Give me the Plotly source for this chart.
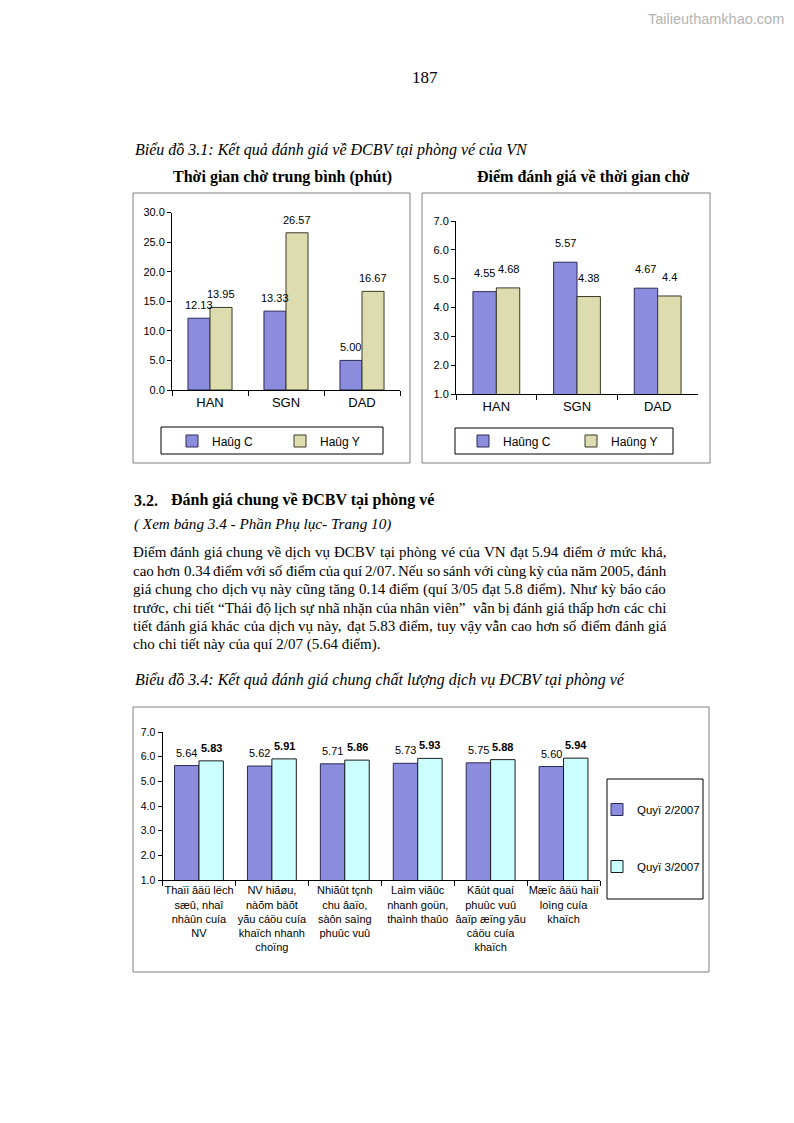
import unicodedata
import plotly.graph_objects as go

# The browser page adds an 8px body margin, so the figure is sized to fit inside it
OFF = 8
W, H = 794 - 2 * OFF, 1123 - 2 * OFF

# ---------------- data ----------------
airports = ["HAN", "SGN", "DAD"]
wait_c = [12.13, 13.33, 5.00]
wait_y = [13.95, 26.57, 16.67]
score_c = [4.55, 5.57, 4.67]
score_y = [4.68, 4.38, 4.4]
series1_names = ["Haûg C", "Haûg Y"]
series2_names = ["Haûng C", "Haûng Y"]

criteria = [
    "Thaïi âäü lëch<br>sæû, nhaî<br>nhàûn cuía<br>NV",
    "NV hiãøu,<br>nàõm bàõt<br>yãu cáöu cuía<br>khaïch nhanh<br>choïng",
    "Nhiãût tçnh<br>chu âaïo,<br>sàôn saìng<br>phuûc vuû",
    "Laìm viãûc<br>nhanh goün,<br>thaình thaûo",
    "Kãút quaí<br>phuûc vuû<br>âaïp æïng yãu<br>cáöu cuía<br>khaïch",
    "Mæïc âäü haìi<br>loìng cuía<br>khaïch",
]
q2_2007 = [5.64, 5.62, 5.71, 5.73, 5.75, 5.60]
q3_2007 = [5.83, 5.91, 5.86, 5.93, 5.88, 5.94]
series3_names = ["Quyï 2/2007", "Quyï 3/2007"]

para_lines = [
    "Điểm đánh giá chung về dịch vụ ĐCBV tại phòng vé của VN đạt 5.94 điểm ở mức khá,",
    "cao hơn 0.34 điểm với số điểm của quí 2/07. Nếu so sánh với cùng kỳ của năm 2005, đánh",
    "giá chung cho dịch vụ này cũng tăng 0.14 điểm (quí 3/05 đạt 5.8 điểm). Như kỳ báo cáo",
    "trước, chi tiết “Thái độ lịch sự nhã nhặn của nhân viên”  vẫn bị đánh giá thấp hơn các chi",
    "tiết đánh giá khác của dịch vụ này, đạt 5.83 điểm, tuy vậy vẫn cao hơn số điểm đánh giá",
    "cho chi tiết này của quí 2/07 (5.64 điểm).",
]

# ---------------- helpers (page pixel -> paper fraction) ----------------
def px(x):
    return (x - OFF) / W

def py(y):
    return 1 - (y - OFF) / H

SERIF = "Liberation Serif"
SANS = "Liberation Sans, Arial"
C_BLUE = "#8c8cde"
C_BLUE_LINE = "#2a2a55"
C_YEL = "#dcdcae"
C_YEL_LINE = "#3a3a2a"
C_CYAN = "#ccffff"
C_CYAN_LINE = "#1a1a1a"

fig = go.Figure()

# ---------------- chart 1 ----------------
w1 = 0.29
fig.add_trace(go.Bar(x=airports, y=wait_c, name=series1_names[0], width=w1, offset=-w1,
                     marker=dict(color=C_BLUE, line=dict(color=C_BLUE_LINE, width=1)),
                     xaxis="x", yaxis="y", legend="legend"))
fig.add_trace(go.Bar(x=airports, y=wait_y, name=series1_names[1], width=w1, offset=0,
                     marker=dict(color=C_YEL, line=dict(color=C_YEL_LINE, width=1)),
                     xaxis="x", yaxis="y", legend="legend"))

# ---------------- chart 2 ----------------
w2 = 0.29
fig.add_trace(go.Bar(x=airports, y=score_c, name=series2_names[0], width=w2, offset=-w2,
                     marker=dict(color=C_BLUE, line=dict(color=C_BLUE_LINE, width=1)),
                     xaxis="x2", yaxis="y2", legend="legend2"))
fig.add_trace(go.Bar(x=airports, y=score_y, name=series2_names[1], width=w2, offset=0,
                     marker=dict(color=C_YEL, line=dict(color=C_YEL_LINE, width=1)),
                     xaxis="x2", yaxis="y2", legend="legend2"))

# ---------------- chart 3 ----------------
w3 = 0.335
fig.add_trace(go.Bar(x=criteria, y=q2_2007, name=series3_names[0], width=w3, offset=-w3,
                     marker=dict(color=C_BLUE, line=dict(color=C_BLUE_LINE, width=1)),
                     xaxis="x3", yaxis="y3", legend="legend3", legendgroup="a"))
fig.add_trace(go.Bar(x=criteria, y=q3_2007, name=series3_names[1], width=w3, offset=0,
                     marker=dict(color=C_CYAN, line=dict(color=C_CYAN_LINE, width=1)),
                     xaxis="x3", yaxis="y3", legend="legend3", legendgroup="b"))

annotations = []

# data labels (anchored on data values through the axes)
def add_labels(vals, xref, yref, off, fmt, shift, bold=False, size=11):
    for i, v in enumerate(vals):
        t = fmt(v)
        if bold:
            t = "<b>" + t + "</b>"
        annotations.append(dict(x=i + off, y=v, xref=xref, yref=yref, text=t,
                                showarrow=False, yanchor="bottom", yshift=shift,
                                font=dict(family=SANS, size=size, color="black")))

add_labels(wait_c, "x", "y", -w1 / 2, lambda v: f"{v:.2f}", 5)
add_labels(wait_y, "x", "y", w1 / 2, lambda v: f"{v:.2f}", 5)
add_labels(score_c, "x2", "y2", -w2 / 2, lambda v: f"{v:g}", 11)
add_labels(score_y, "x2", "y2", w2 / 2, lambda v: f"{v:g}", 11)
add_labels(q2_2007, "x3", "y3", -w3 / 2, lambda v: f"{v:.2f}", 5)
add_labels(q3_2007, "x3", "y3", w3 / 2, lambda v: f"{v:.2f}", 5, bold=True)

def txt(x, y, text, size, family=SERIF, xanchor="left", color="black", yanchor="middle"):
    annotations.append(dict(x=px(x), y=py(y), xref="paper", yref="paper", text=text,
                            showarrow=False, xanchor=xanchor, yanchor=yanchor,
                            font=dict(family=family, size=size, color=color)))

# Times-compatible advance widths (per 1000 em) for justifying the paragraph
TW = {' ': 250, 'a': 444, 'b': 500, 'c': 444, 'd': 500, 'e': 444, 'f': 333, 'g': 500,
      'h': 500, 'i': 278, 'j': 278, 'k': 500, 'l': 278, 'm': 778, 'n': 500, 'o': 500,
      'p': 500, 'q': 500, 'r': 333, 's': 389, 't': 278, 'u': 500, 'v': 500, 'w': 722,
      'x': 500, 'y': 500, 'z': 444, 'A': 722, 'B': 667, 'C': 667, 'D': 722, 'E': 611,
      'F': 556, 'G': 722, 'H': 722, 'I': 333, 'J': 389, 'K': 722, 'L': 611, 'M': 889,
      'N': 722, 'O': 722, 'P': 556, 'Q': 722, 'R': 667, 'S': 556, 'T': 611, 'U': 722,
      'V': 722, 'W': 944, 'X': 722, 'Y': 722, 'Z': 611, '.': 250, ',': 250, ':': 278,
      ';': 278, '(': 333, ')': 333, '/': 278, '-': 333, '\u201c': 444, '\u201d': 444,
      'đ': 500, 'Đ': 722}
for dgt in "0123456789":
    TW[dgt] = 500

def word_width(word, size):
    total = 0
    for ch in word:
        if ch in TW:
            total += TW[ch]
            continue
        dec = unicodedata.normalize("NFD", ch)
        base = dec[0]
        w = TW.get(base, 500)
        if "\u031b" in dec:  # horn (ơ, ư)
            w += 70
        total += w
    return total * size / 1000.0

PARA_X0, PARA_X1 = 133, 666
PARA_SIZE = 15

def justified_line(y, line, size):
    tokens = line.split(" ")
    widths = [word_width(t, size) for t in tokens]
    gap = (PARA_X1 - PARA_X0 - sum(widths)) / (len(tokens) - 1)
    x = PARA_X0
    for t, w in zip(tokens, widths):
        if t:
            txt(x - 2, y, t, size)
        x += w + gap

# page text
txt(786, 8.6, "Tailieuthamkhao.com", 14.5, family=SANS, xanchor="right", color="#b4b4b4",
    yanchor="top")
txt(425, 77, "187", 17, xanchor="center")
txt(133, 150, "<i>Biểu đồ 3.1: Kết quả đánh giá về ĐCBV tại phòng vé của VN</i>", 16)
txt(282, 177, "<b>Thời gian chờ trung bình (phút)</b>", 16, xanchor="center")
txt(583, 177, "<b>Điểm đánh giá về thời gian chờ</b>", 16, xanchor="center")
txt(132, 500, "<b>3.2.</b>", 16)
txt(169, 500, "<b>Đánh giá chung về ĐCBV tại phòng vé</b>", 16)
txt(132, 524, "<i>( Xem bảng 3.4 - Phần Phụ lục- Trang 10)</i>", 15.2)
for k, line in enumerate(para_lines):
    yy = 552 + k * 18.6
    if k < len(para_lines) - 1:
        justified_line(yy, line, PARA_SIZE)
    else:
        txt(PARA_X0 - 2, yy, line, PARA_SIZE)
txt(133, 680, "<i>Biểu đồ 3.4: Kết quả đánh giá chung chất lượng dịch vụ ĐCBV tại phòng vé</i>", 16)

# frames
shapes = []
def box(x0, y0, x1, y1, color, width=1):
    shapes.append(dict(type="rect", xref="paper", yref="paper",
                       x0=px(x0), x1=px(x1), y0=py(y1), y1=py(y0),
                       line=dict(color=color, width=width), fillcolor="rgba(0,0,0,0)", layer="below"))

box(133, 193, 410, 463, "#808080")
box(422, 193, 710, 463, "#808080")
box(133, 707, 709, 972, "#808080")
box(161, 427, 383, 454, "black")
box(455, 428, 673, 454, "black")
box(607, 779, 703, 899, "black")

axis_common = dict(showline=True, linecolor="black", linewidth=1, showgrid=False,
                   zeroline=False, ticks="outside", tickcolor="black", ticklen=4,
                   fixedrange=True, automargin=False)
xcat = dict(axis_common, type="category", tickson="boundaries", ticklen=5)

fig.update_layout(
    template="none",
    width=W, height=H,
    margin=dict(l=0, r=0, t=0, b=0, pad=0),
    paper_bgcolor="white", plot_bgcolor="white",
    font=dict(family=SANS, color="black"),
    barmode="overlay",
    showlegend=True,
    xaxis=dict(xcat, domain=[px(172), px(400)], anchor="y",
               tickfont=dict(family=SANS, size=13, color="black")),
    yaxis=dict(axis_common, domain=[py(390), py(212.5)], anchor="x", range=[0, 30], dtick=5,
               tickformat=".1f", tickfont=dict(family=SANS, size=11, color="black")),
    xaxis2=dict(xcat, domain=[px(456), px(698)], anchor="y2",
                tickfont=dict(family=SANS, size=13, color="black")),
    yaxis2=dict(axis_common, domain=[py(394), py(221)], anchor="x2", range=[1, 7], dtick=1,
                tickformat=".1f", tickfont=dict(family=SANS, size=11, color="black")),
    xaxis3=dict(xcat, domain=[px(162.5), px(600)], anchor="y3",
                tickfont=dict(family=SANS, size=11, color="black"), tickangle=0),
    yaxis3=dict(axis_common, domain=[py(880), py(732)], anchor="x3", range=[1, 7], dtick=1,
                tickformat=".1f", tickfont=dict(family=SANS, size=10.5, color="black")),
    legend=dict(orientation="h", x=px(172), y=py(441), xanchor="left", yanchor="middle",
                entrywidth=63, itemwidth=30, bgcolor="rgba(0,0,0,0)", borderwidth=0,
                font=dict(family=SANS, size=12, color="black")),
    legend2=dict(orientation="h", x=px(463), y=py(441), xanchor="left", yanchor="middle",
                 entrywidth=63, itemwidth=30, bgcolor="rgba(0,0,0,0)", borderwidth=0,
                 font=dict(family=SANS, size=12, color="black")),
    legend3=dict(orientation="v", x=px(597), y=py(838), xanchor="left", yanchor="middle",
                 itemwidth=30, tracegroupgap=38, bgcolor="rgba(0,0,0,0)", borderwidth=0,
                 font=dict(family=SANS, size=11.5, color="black")),
    annotations=annotations,
    shapes=shapes,
)

fig.write_html("out.html")
